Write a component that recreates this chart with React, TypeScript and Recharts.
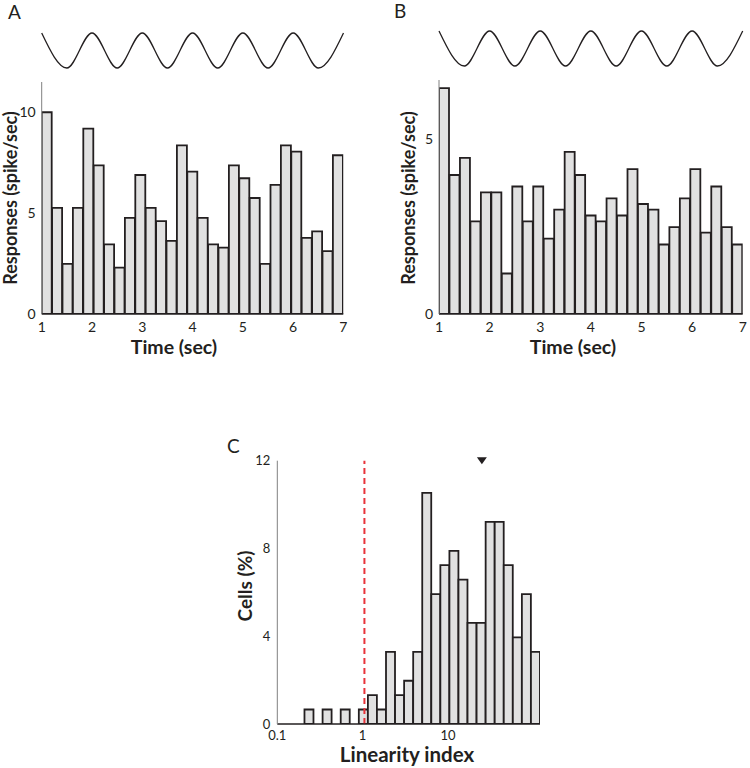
import { Bar, BarChart, Line, LineChart, ReferenceDot, ReferenceLine, XAxis, YAxis } from 'recharts'

// stimulus: peaks and troughs of the drifting grating contrast
const stimTime = [1, 1.5, 2, 2.5, 3, 3.5, 4, 4.5, 5, 5.5, 6, 6.5, 7]
const stimLevel = [1, -1, 1, -1, 1, -1, 1, -1, 1, -1, 1, -1, 1]

const timeRange = [1, 7]
const timeTicks = [1, 2, 3, 4, 5, 6, 7]

// PSTH, 29 equal bins between 1 and 7 sec
const rateA = [
  10.0, 5.26, 2.48, 5.26, 9.19, 7.37, 3.45, 2.3, 4.76, 6.89, 5.26, 4.6, 3.62, 8.36, 7.06,
  4.76, 3.45, 3.29, 7.37, 6.73, 5.75, 2.48, 6.4, 8.36, 8.05, 3.77, 4.1, 3.12, 7.87,
]
const rateB = [
  6.47, 3.98, 4.47, 2.65, 3.48, 3.48, 1.16, 3.65, 2.65, 3.65, 2.16, 2.99, 4.64, 3.98, 2.82,
  2.65, 3.31, 2.82, 4.15, 3.15, 2.99, 1.99, 2.49, 3.31, 4.15, 2.33, 3.65, 2.49, 1.99,
]

// linearity index histogram, 29 equal log bins starting at 0.1
const cellsPct = [
  0, 0, 0, 0.66, 0, 0.66, 0, 0.66, 0, 0.66, 1.32, 0.66, 3.29, 1.32, 1.97, 3.29, 10.53, 5.92,
  7.24, 7.89, 6.58, 4.61, 4.61, 9.21, 9.21, 7.24, 3.95, 5.92, 3.29,
]
const linearityRange = [0.1, 120]
const linearityTicks = [0.1, 1, 10]
const linearityThreshold = 1.05
const linearityMedian = 25

const INK = '#231f20'
const BAR_FILL = '#e1e1e1'
const AXIS_GRAY = '#808080'
const FONT = 'Lato, "Open Sans", sans-serif'

const tickStyle = { fontSize: 14, fill: INK, fontFamily: FONT }

const stimRows = stimTime.map((t, i) => ({ t, level: stimLevel[i] }))

function timeRows(rates: number[]) {
  const w = (timeRange[1] - timeRange[0]) / rates.length
  return rates.map((rate, i) => ({ t: timeRange[0] + (i + 0.5) * w, rate }))
}
const rowsA = timeRows(rateA)
const rowsB = timeRows(rateB)

const logW = Math.log10(linearityRange[1] / linearityRange[0]) / cellsPct.length
const rowsC = cellsPct.map((pct, i) => ({
  li: linearityRange[0] * Math.pow(10, (i + 0.5) * logW),
  pct,
}))

function Stimulus({ left, width, margin }: { left: number; width: number; margin: any }) {
  return (
    <div style={{ position: 'absolute', left, top: 0 }}>
      <LineChart width={width} height={80} data={stimRows} margin={margin}>
        <XAxis dataKey="t" type="number" domain={timeRange} hide />
        <YAxis domain={[-1, 1]} hide />
        <Line
          dataKey="level"
          type="monotone"
          dot={false}
          stroke={INK}
          strokeWidth={1.3}
          isAnimationActive={false}
        />
      </LineChart>
    </div>
  )
}

function Psth({
  rows,
  left,
  width,
  margin,
  yAxisWidth,
  yMax,
  yTicks,
}: {
  rows: { t: number; rate: number }[]
  left: number
  width: number
  margin: any
  yAxisWidth: number
  yMax: number
  yTicks: number[]
}) {
  return (
    <div style={{ position: 'absolute', left, top: 0 }}>
      <BarChart width={width} height={340} data={rows} margin={margin} barCategoryGap={0} barGap={0}>
        <XAxis
          dataKey="t"
          type="number"
          domain={timeRange}
          ticks={timeTicks}
          interval={0}
          allowDataOverflow
          height={26}
          tickLine={false}
          tickSize={6}
          tickMargin={2}
          axisLine={{ stroke: INK, strokeWidth: 1.5 }}
          tick={tickStyle}
        />
        <YAxis
          domain={[0, yMax]}
          ticks={yTicks}
          allowDataOverflow
          width={yAxisWidth}
          tickLine={false}
          tickSize={4}
          tickMargin={2}
          axisLine={{ stroke: AXIS_GRAY, strokeWidth: 1 }}
          tick={tickStyle}
        />
        <Bar
          dataKey="rate"
          fill={BAR_FILL}
          stroke={INK}
          strokeWidth={1.8}
          isAnimationActive={false}
        />
      </BarChart>
    </div>
  )
}

function Triangle(props: any) {
  const { cx, cy } = props
  return <path d={`M${cx - 5},${cy - 3.5} L${cx + 5},${cy - 3.5} L${cx},${cy + 3.5} Z`} fill={INK} />
}

function LinearityHistogram() {
  return (
    <div style={{ position: 'absolute', left: 200, top: 440 }}>
      <BarChart
        width={360}
        height={320}
        data={rowsC}
        margin={{ top: 20.7, right: 20, left: 47.3, bottom: 0 }}
        barCategoryGap={0}
        barGap={0}
      >
        <XAxis
          dataKey="li"
          type="number"
          scale="log"
          domain={linearityRange}
          ticks={linearityTicks}
          interval={0}
          tickFormatter={(v: number) => String(v)}
          allowDataOverflow
          height={36}
          tickLine={false}
          tickSize={4}
          tickMargin={3}
          axisLine={{ stroke: INK, strokeWidth: 1.5 }}
          tick={{ ...tickStyle, fontSize: 13 }}
        />
        <YAxis
          domain={[0, 12]}
          ticks={[0, 4, 8, 12]}
          allowDataOverflow
          width={30}
          tickLine={false}
          tickSize={4}
          tickMargin={3}
          axisLine={{ stroke: AXIS_GRAY, strokeWidth: 1 }}
          tick={{ ...tickStyle, fontSize: 13 }}
        />
        <Bar
          dataKey="pct"
          fill={BAR_FILL}
          stroke={INK}
          strokeWidth={1.8}
          isAnimationActive={false}
        />
        <ReferenceLine
          x={linearityThreshold}
          stroke="#e8333a"
          strokeWidth={2}
          strokeDasharray="6 4"
        />
        <ReferenceDot x={linearityMedian} y={12} ifOverflow="visible" shape={<Triangle />} />
      </BarChart>
    </div>
  )
}

export default function App() {
  const title = { fontFamily: FONT, fontWeight: 700, fill: INK }
  const letter = { fontFamily: FONT, fontSize: 19, fill: INK }
  return (
    <div style={{ position: 'absolute', left: 0, top: 0, width: 750, height: 768, overflow: 'hidden', background: '#fff' }}>
      <Stimulus left={0} width={360} margin={{ top: 33, bottom: 12, left: 41.7, right: 16.5 }} />
      <Stimulus left={380} width={370} margin={{ top: 31, bottom: 14, left: 59, right: 7.3 }} />
      <Psth
        rows={rowsA}
        left={0}
        width={360}
        margin={{ top: 82, right: 16.7, left: 0, bottom: 0 }}
        yAxisWidth={41.7}
        yMax={11.5}
        yTicks={[0, 5, 10]}
      />
      <Psth
        rows={rowsB}
        left={380}
        width={370}
        margin={{ top: 80, right: 7.3, left: 29, bottom: 0 }}
        yAxisWidth={30}
        yMax={6.7}
        yTicks={[0, 5]}
      />
      <LinearityHistogram />
      <svg
        width={750}
        height={768}
        style={{ position: 'absolute', left: 0, top: 0, pointerEvents: 'none' }}
      >
        <text x={8} y={19} style={letter}>A</text>
        <text x={394} y={18} style={letter}>B</text>
        <text x={227} y={453} style={letter}>C</text>
        <text x={17} y={198} textAnchor="middle" transform="rotate(-90 17 198)" style={{ ...title, fontSize: 18 }}>
          Responses (spike/sec)
        </text>
        <text x={415} y={198} textAnchor="middle" transform="rotate(-90 415 198)" style={{ ...title, fontSize: 18 }}>
          Responses (spike/sec)
        </text>
        <text x={174} y={354} textAnchor="middle" style={{ ...title, fontSize: 19.5 }}>Time (sec)</text>
        <text x={573} y={354} textAnchor="middle" style={{ ...title, fontSize: 19.5 }}>Time (sec)</text>
        <text x={252} y={586} textAnchor="middle" transform="rotate(-90 252 586)" style={{ ...title, fontSize: 19 }}>
          Cells (%)
        </text>
        <text x={407} y={762} textAnchor="middle" style={{ ...title, fontSize: 20.5 }}>Linearity index</text>
      </svg>
    </div>
  )
}
